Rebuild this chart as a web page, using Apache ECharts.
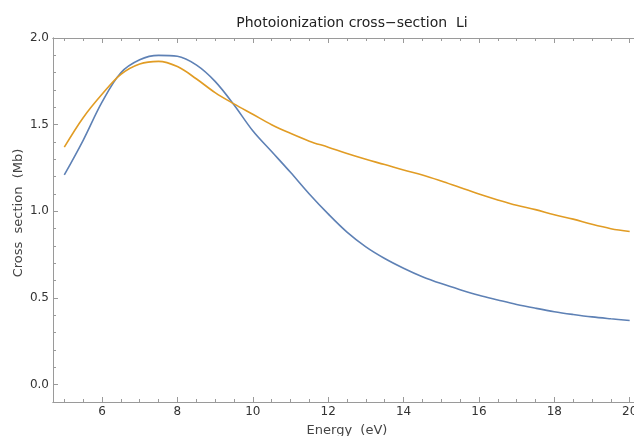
<!DOCTYPE html>
<html><head><meta charset="utf-8">
<script src="https://cdn.jsdelivr.net/npm/echarts@6/dist/echarts.min.js"></script>
<style>html,body{margin:0;padding:0;overflow:hidden;background:#fff}#c{width:641px;height:436px}</style>
</head><body><div id="c"></div>
<script>
const energy = [5,5.5,6,6.5,7,7.5,8,8.5,9,9.5,10,10.5,11,11.5,12,12.5,13,13.5,14,14.5,15,15.5,16,16.5,17,17.5,18,18.5,19,19.5,20];
const blueValues = [1.21,1.41,1.63,1.80,1.875,1.90,1.895,1.845,1.75,1.615,1.465,1.345,1.225,1.10,0.985,0.88,0.795,0.728,0.672,0.623,0.583,0.548,0.516,0.489,0.463,0.441,0.421,0.405,0.391,0.38,0.37];
const orangeValues = [1.37,1.54,1.675,1.79,1.85,1.865,1.835,1.765,1.685,1.62,1.56,1.50,1.45,1.405,1.37,1.333,1.30,1.27,1.238,1.21,1.175,1.137,1.10,1.066,1.035,1.01,0.98,0.955,0.925,0.90,0.884];
const xMajorTicks = [6,8,10,12,14,16,18,20];
const xMinorTicks = [5,5.5,6.5,7,7.5,8.5,9,9.5,10.5,11,11.5,12.5,13,13.5,14.5,15,15.5,16.5,17,17.5,18.5,19,19.5];
const yMajorTicks = [0,0.5,1,1.5,2];
const yMinorTicks = [0.1,0.2,0.3,0.4,0.6,0.7,0.8,0.9,1.1,1.2,1.3,1.4,1.6,1.7,1.8,1.9];
const titleText = 'Photoionization cross\u2212section  Li';
const xName = 'Energy  (eV)';
const yName = 'Cross  section  (Mb)';

const FONT = 'DejaVu Sans';
const AX = '#9a9a9a';
const X_MIN = 4.7, X_MAX = 20.3, Y_MIN = -0.1, Y_MAX = 2.0;

function xAx(pos, ticks, len, labels, extra) {
  return Object.assign({
    type: 'value', position: pos, min: X_MIN, max: X_MAX,
    axisLine: {show: true, onZero: false, lineStyle: {color: AX, width: 1}},
    axisTick: {show: true, inside: true, length: len, customValues: ticks, lineStyle: {color: AX}},
    axisLabel: labels ? {show: true, customValues: ticks, margin: 4, fontSize: 12, color: '#333', fontFamily: FONT} : {show: false},
    splitLine: {show: false}
  }, extra || {});
}
function yAx(pos, ticks, len, labels, extra) {
  return Object.assign({
    type: 'value', position: pos, min: Y_MIN, max: Y_MAX,
    axisLine: {show: true, onZero: false, lineStyle: {color: AX, width: 1}},
    axisTick: {show: true, inside: true, length: len, customValues: ticks, lineStyle: {color: AX}},
    axisLabel: labels ? {show: true, customValues: ticks, margin: 4, fontSize: 12, color: '#333', fontFamily: FONT,
      formatter: v => v.toFixed(1)} : {show: false},
    splitLine: {show: false}
  }, extra || {});
}

const chart = echarts.init(document.getElementById('c'), null, {renderer: 'canvas'});
chart.setOption({
  animation: false,
  backgroundColor: '#fff',
  title: {text: titleText, left: 347, top: 11, textAlign: 'center',
    textStyle: {fontFamily: FONT, fontSize: 14, fontWeight: 'normal', color: '#222'}},
  grid: {left: 53, right: 0, top: 38, bottom: 34, containLabel: false, outerBoundsMode: 'none'},
  xAxis: [
    xAx('bottom', xMajorTicks, 5, true, {name: xName, nameLocation: 'middle', nameGap: 22, nameMoveOverlap: false,
      nameTextStyle: {fontFamily: FONT, fontSize: 13, color: '#444'}}),
    xAx('bottom', xMinorTicks, 3, false),
    xAx('top', xMajorTicks, 5, false),
    xAx('top', xMinorTicks, 3, false)
  ],
  yAxis: [
    yAx('left', yMajorTicks, 5, true, {name: yName, nameLocation: 'middle', nameGap: 28, nameMoveOverlap: false,
      nameTextStyle: {fontFamily: FONT, fontSize: 13, color: '#444', padding: [0, 0, 0, 14]}}),
    yAx('left', yMinorTicks, 3, false)
  ],
  series: [
    {type: 'line', name: 'blue', xAxisIndex: 0, yAxisIndex: 0, showSymbol: false, smooth: 0.35,
     data: energy.map((x, i) => [x, blueValues[i]]),
     lineStyle: {color: '#5E81B5', width: 1.6}, itemStyle: {color: '#5E81B5'}},
    {type: 'line', name: 'orange', xAxisIndex: 0, yAxisIndex: 0, showSymbol: false, smooth: 0.35,
     data: energy.map((x, i) => [x, orangeValues[i]]),
     lineStyle: {color: '#E19C24', width: 1.6}, itemStyle: {color: '#E19C24'}}
  ]
});
</script></body></html>
